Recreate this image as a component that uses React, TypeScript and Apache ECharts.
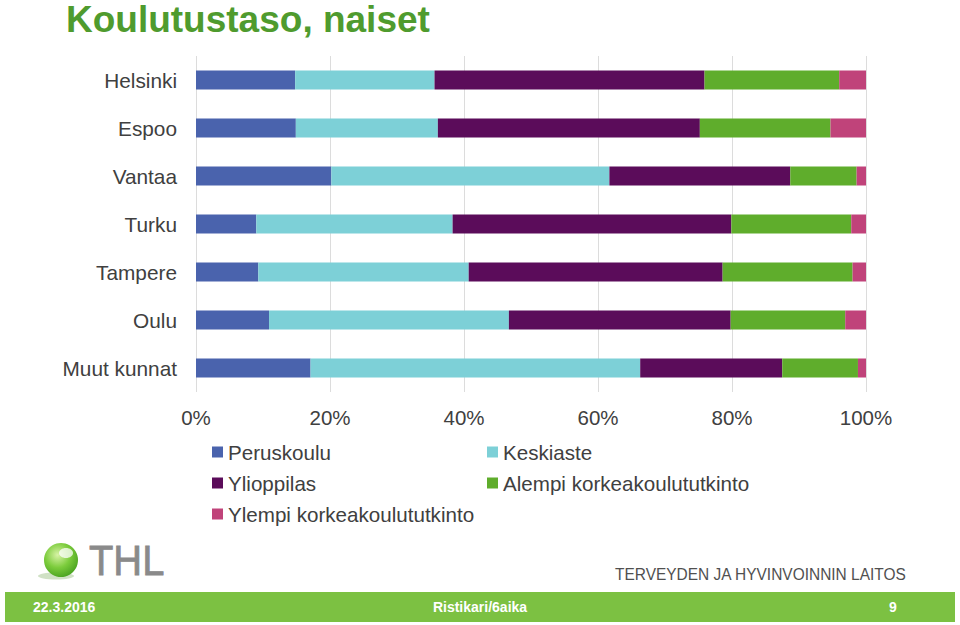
import React, { useEffect, useRef } from "react";
import * as echarts from "echarts";

const categories = ["Helsinki", "Espoo", "Vantaa", "Turku", "Tampere", "Oulu", "Muut kunnat"];
const seriesNames = ["Peruskoulu", "Keskiaste", "Ylioppilas", "Alempi korkeakoulututkinto", "Ylempi korkeakoulututkinto"];
const peruskoulu = [14.8, 14.9, 20.2, 9.0, 9.3, 10.9, 17.1];
const keskiaste = [20.8, 21.2, 41.5, 29.3, 31.4, 35.8, 49.2];
const ylioppilas = [40.3, 39.1, 27.0, 41.6, 37.9, 33.1, 21.2];
const alempi = [20.1, 19.5, 9.9, 17.9, 19.4, 17.1, 11.3];
const ylempi = [4.0, 5.3, 1.4, 2.2, 2.0, 3.1, 1.2];
const seriesValues = [peruskoulu, keskiaste, ylioppilas, alempi, ylempi];
const colors = ["#4a63ad", "#7dd0d7", "#5b0c5a", "#5fad2c", "#c0437a"];
const xTicks = { min: 0, max: 100, interval: 20 };

const titleText = "Koulutustaso, naiset";
const footerDate = "22.3.2016";
const footerMid = "Ristikari/6aika";
const footerPage = "9";
const orgName = "TERVEYDEN JA HYVINVOINNIN LAITOS";

export default function App() {
  const ref = useRef<HTMLDivElement>(null);
  useEffect(() => {
    if (!ref.current) return;
    const chart = echarts.init(ref.current, undefined, { renderer: "svg" });
    const font = "Arial, 'Liberation Sans', sans-serif";
    const legendText = { fontSize: 20.6, color: "#404040", lineHeight: 22, fontFamily: font };
    chart.setOption({
      animation: false,
      backgroundColor: "#ffffff",
      textStyle: { fontFamily: font },
      title: {
        text: titleText,
        left: 61,
        top: -4,
        textStyle: { fontSize: 37, fontWeight: "bold", color: "#4f9b2e", fontFamily: font },
      },
      legend: [
        {
          data: [seriesNames[0], seriesNames[2], seriesNames[4]],
          orient: "vertical",
          left: 212,
          top: 441,
          padding: 0,
          itemWidth: 11,
          itemHeight: 11,
          itemGap: 9,
          icon: "rect",
          textStyle: legendText,
        },
        {
          data: [seriesNames[1], seriesNames[3]],
          orient: "vertical",
          left: 487,
          top: 441,
          padding: 0,
          itemWidth: 11,
          itemHeight: 11,
          itemGap: 9,
          icon: "rect",
          textStyle: legendText,
        },
      ],
      grid: { left: 196, right: 94, top: 56, bottom: 233, containLabel: false },
      xAxis: {
        type: "value",
        min: xTicks.min,
        max: xTicks.max,
        interval: xTicks.interval,
        axisLine: { show: false },
        axisTick: { show: false },
        axisLabel: { formatter: "{value}%", fontSize: 20.5, color: "#404040", margin: 15 },
        splitLine: { show: true, lineStyle: { color: "#dcdcdc", width: 1 } },
      },
      yAxis: {
        type: "category",
        data: categories,
        inverse: true,
        axisLine: { show: false },
        axisTick: { show: false },
        axisLabel: { fontSize: 20.8, color: "#404040", margin: 19 },
      },
      series: seriesNames.map((name, i) => ({
        name,
        type: "bar",
        stack: "total",
        barWidth: 19,
        itemStyle: { color: colors[i] },
        data: seriesValues[i],
      })),
      graphic: [
        {
          type: "ellipse",
          shape: { cx: 56, cy: 576, rx: 18, ry: 3.5 },
          style: { fill: "rgba(120,170,90,0.35)" },
        },
        {
          type: "circle",
          shape: { cx: 61, cy: 560, r: 17 },
          style: {
            fill: new echarts.graphic.RadialGradient(0.4, 0.35, 0.75, [
              { offset: 0, color: "#d8f3a6" },
              { offset: 0.5, color: "#7ccc3c" },
              { offset: 1, color: "#3f9a1a" },
            ]),
          },
        },
        {
          type: "ellipse",
          shape: { cx: 66, cy: 553, rx: 7, ry: 5 },
          style: { fill: "rgba(255,255,255,0.75)" },
        },
        {
          type: "text",
          x: 89,
          y: 561,
          scaleX: 0.95,
          style: {
            text: "THL",
            fontSize: 42,
            fontFamily: font,
            fill: "#8a8a8a",
            stroke: "#8a8a8a",
            lineWidth: 0.8,
            verticalAlign: "middle",
            align: "left",
          },
        },
        {
          type: "text",
          x: 615,
          y: 574,
          scaleX: 0.91,
          style: {
            text: orgName,
            fontSize: 17,
            fontFamily: font,
            fill: "#505050",
            verticalAlign: "middle",
            align: "left",
          },
        },
        {
          type: "rect",
          shape: { x: 5, y: 592, width: 950, height: 30 },
          style: { fill: "#7cc142" },
        },
        {
          type: "text",
          x: 33,
          y: 607,
          style: { text: footerDate, fontSize: 14, fontWeight: "bold", fontFamily: font, fill: "#ffffff", verticalAlign: "middle", align: "left" },
        },
        {
          type: "text",
          x: 480,
          y: 607,
          style: { text: footerMid, fontSize: 14, fontWeight: "bold", fontFamily: font, fill: "#ffffff", verticalAlign: "middle", align: "center" },
        },
        {
          type: "text",
          x: 893,
          y: 607,
          style: { text: footerPage, fontSize: 14, fontWeight: "bold", fontFamily: font, fill: "#ffffff", verticalAlign: "middle", align: "center" },
        },
      ],
    });
    return () => chart.dispose();
  }, []);
  return (
    <div
      ref={ref}
      style={{ position: "fixed", left: 0, top: 0, width: 960, height: 625 }}
    />
  );
}
